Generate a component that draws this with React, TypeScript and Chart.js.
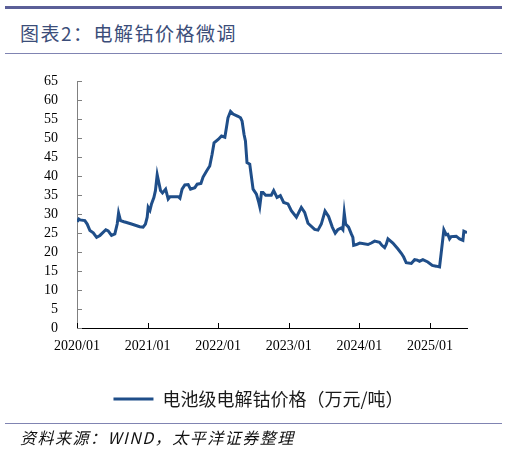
import React, { useEffect, useRef } from 'react';
import { Chart, registerables } from 'chart.js';

Chart.register(...registerables);

// weekly-ish samples
const dates = [
  '2020-01-02', '2020-01-10', '2020-01-16', '2020-02-11', '2020-02-23', '2020-03-07', '2020-03-24', '2020-04-11',
  '2020-04-28', '2020-05-28', '2020-06-10', '2020-06-27', '2020-07-14', '2020-07-26', '2020-08-03', '2020-08-13',
  '2020-08-30', '2020-09-14', '2020-10-09', '2020-11-21', '2020-12-08', '2020-12-20', '2020-12-29', '2021-01-04',
  '2021-01-13', '2021-01-21', '2021-02-03', '2021-02-11', '2021-02-20', '2021-02-28', '2021-03-07', '2021-03-17',
  '2021-04-03', '2021-04-16', '2021-04-25', '2021-06-07', '2021-06-16', '2021-06-27', '2021-07-11', '2021-07-28',
  '2021-08-10', '2021-09-02', '2021-09-14', '2021-10-03', '2021-10-14', '2021-11-02', '2021-11-18', '2021-11-30',
  '2021-12-10', '2021-12-31', '2022-01-18', '2022-02-05', '2022-02-13', '2022-02-21', '2022-03-04', '2022-03-17',
  '2022-04-12', '2022-04-25', '2022-05-03', '2022-05-13', '2022-05-20', '2022-05-28', '2022-06-12', '2022-06-29',
  '2022-07-16', '2022-07-28', '2022-08-03', '2022-08-12', '2022-08-20', '2022-09-03', '2022-10-02', '2022-10-14',
  '2022-11-01', '2022-11-18', '2022-12-05', '2022-12-27', '2023-01-14', '2023-02-10', '2023-03-05', '2023-03-22',
  '2023-04-09', '2023-05-13', '2023-05-30', '2023-06-17', '2023-07-06', '2023-07-24', '2023-08-13', '2023-08-28',
  '2023-09-11', '2023-09-29', '2023-10-07', '2023-10-14', '2023-10-21', '2023-11-06', '2023-11-20', '2023-11-28',
  '2023-12-02', '2023-12-16', '2024-01-03', '2024-02-15', '2024-03-02', '2024-03-19', '2024-04-14', '2024-04-26',
  '2024-05-10', '2024-05-18', '2024-05-27', '2024-06-22', '2024-07-17', '2024-08-05', '2024-08-17', '2024-08-30',
  '2024-09-26', '2024-10-13', '2024-10-27', '2024-11-08', '2024-11-25', '2024-12-20', '2025-01-13', '2025-02-03',
  '2025-02-20', '2025-02-28', '2025-03-12', '2025-03-24', '2025-04-02', '2025-04-11', '2025-04-19', '2025-05-15',
  '2025-06-02', '2025-06-19', '2025-06-24', '2025-07-10'
];

const cobaltPrice = [
  28.0, 28.7, 28.5, 28.3, 27.4, 25.7, 25.1, 23.9,
  24.4, 25.9, 25.6, 24.4, 24.8, 27.4, 30.3, 28.3,
  28.0, 27.8, 27.4, 26.7, 26.6, 27.4, 29.2, 31.8,
  31.0, 32.7, 34.4, 36.2, 40.4, 38.4, 36.2, 35.6,
  36.6, 34.0, 34.6, 34.6, 34.2, 36.6, 37.7, 37.8,
  36.6, 37.0, 37.9, 38.1, 39.8, 41.4, 42.7, 45.8,
  48.8, 49.7, 50.6, 50.3, 52.8, 55.4, 57.1, 56.4,
  55.8, 55.4, 54.5, 51.0, 49.3, 43.6, 43.2, 36.6,
  35.3, 33.1, 32.0, 35.7, 35.7, 35.0, 35.0, 36.2,
  34.4, 34.9, 33.1, 32.7, 30.9, 29.2, 31.8, 30.5,
  27.6, 26.0, 25.8, 27.4, 30.8, 29.4, 26.6, 25.0,
  25.9, 26.4, 25.9, 30.3, 27.4, 26.6, 24.8, 23.9,
  21.8, 22.0, 22.4, 22.0, 22.4, 22.9, 22.6, 21.8,
  21.2, 22.0, 23.5, 22.4, 20.9, 19.7, 18.7, 17.2,
  17.0, 18.0, 17.9, 17.6, 18.0, 17.4, 16.5, 16.3,
  16.1, 19.6, 25.9, 24.6, 24.7, 23.5, 24.1, 24.2,
  23.5, 23.1, 25.5, 25.1
];

const yearTicks = ['2020/01', '2021/01', '2022/01', '2023/01', '2024/01', '2025/01'];
const seriesLabel = '电池级电解钴价格（万元/吨）';

// months since 2020/01
const toMonth = (d: string) => {
  const [y, m, day] = d.split('-').map(Number);
  return (y - 2020) * 12 + (m - 1) + (day - 1) / 30;
};

// tick marks pointing into the plot
const innerTicks = {
  id: 'innerTicks',
  beforeDatasetsDraw(chart: any) {
    const { ctx, chartArea, scales } = chart;
    ctx.save();
    ctx.lineWidth = 1;
    ctx.strokeStyle = '#808080';
    scales.y.ticks.forEach((t: any) => {
      const py = Math.round(scales.y.getPixelForValue(t.value)) + 0.5;
      ctx.beginPath();
      ctx.moveTo(chartArea.left, py);
      ctx.lineTo(chartArea.left + 5, py);
      ctx.stroke();
    });
    ctx.strokeStyle = '#000';
    scales.x.ticks.forEach((t: any) => {
      const px = Math.round(scales.x.getPixelForValue(t.value)) + 0.5;
      ctx.beginPath();
      ctx.moveTo(px, chartArea.bottom);
      ctx.lineTo(px, chartArea.bottom - 5);
      ctx.stroke();
    });
    ctx.restore();
  }
};

function CobaltChart() {
  const canvasRef = useRef<HTMLCanvasElement>(null);
  const chartRef = useRef<Chart | null>(null);

  useEffect(() => {
    if (!canvasRef.current) return;
    if (chartRef.current) chartRef.current.destroy();

    chartRef.current = new Chart(canvasRef.current, {
      type: 'line',
      data: {
        datasets: [
          {
            label: seriesLabel,
            data: dates.map((d, i) => ({ x: toMonth(d), y: cobaltPrice[i] })),
            borderColor: '#1f4e89',
            backgroundColor: '#1f4e89',
            borderWidth: 3,
            pointRadius: 0,
            tension: 0
          }
        ]
      },
      options: {
        animation: false,
        responsive: true,
        maintainAspectRatio: false,
        layout: { padding: { left: 10, right: 0, top: 20, bottom: 6 } },
        scales: {
          x: {
            type: 'linear',
            min: 0,
            max: 66.3,
            afterBuildTicks: (scale: any) => {
              scale.ticks = yearTicks.map((_, i) => ({ value: i * 12 }));
            },
            afterFit: (scale: any) => { scale.height = 52; },
            ticks: {
              autoSkip: false,
              maxRotation: 0,
              padding: 10,
              color: '#000',
              font: { size: 14, family: 'Liberation Serif' },
              callback: (v: any) => yearTicks[Math.round(Number(v) / 12)]
            },
            grid: { display: false, drawTicks: false },
            border: { color: '#000', width: 1 }
          },
          y: {
            min: 0,
            max: 65,
            afterFit: (scale: any) => { scale.width = 67; },
            ticks: {
              stepSize: 5,
              autoSkip: false,
              padding: 19,
              color: '#000',
              font: { size: 14, family: 'Liberation Serif' }
            },
            grid: { display: false, drawTicks: false },
            border: { color: '#808080', width: 1 }
          },
          // empty right-hand gutter so the legend stays centred on the page
          gutter: {
            position: 'right',
            afterFit: (scale: any) => { scale.width = 40; },
            ticks: { display: false },
            grid: { display: false, drawTicks: false },
            border: { display: false }
          }
        },
        plugins: {
          legend: {
            position: 'bottom',
            labels: {
              usePointStyle: true,
              pointStyle: 'line',
              pointStyleWidth: 40,
              color: '#1a1a1a',
              font: { size: 18, family: 'Noto Sans CJK SC' }
            }
          },
          tooltip: { enabled: false }
        }
      },
      plugins: [innerTicks]
    });

    return () => { if (chartRef.current) chartRef.current.destroy(); };
  }, []);

  return <canvas ref={canvasRef} />;
}

export default function App() {
  return (
    <div style={{ position: 'fixed', left: 0, top: 0, width: 507, height: 450, background: '#fff', overflow: 'hidden' }}>
      <div style={{ position: 'absolute', left: 5, top: 6, width: 497, height: 2.5, background: '#5b5f98' }} />
      <div
        style={{
          position: 'absolute', left: 20, top: 21, height: 24, lineHeight: '24px', letterSpacing: 1.5,
          fontSize: 19, color: '#3b4d79', fontFamily: 'Noto Sans CJK SC', whiteSpace: 'nowrap'
        }}
      >
        图表2：电解钴价格微调
      </div>
      <div style={{ position: 'absolute', left: 5, top: 53, width: 497, height: 1, background: '#8084b2' }} />
      <div style={{ position: 'absolute', left: 0, top: 54, width: 507, height: 370 }}>
        <CobaltChart />
      </div>
      <div style={{ position: 'absolute', left: 5, top: 423, width: 497, height: 1, background: '#8084b2' }} />
      <div
        style={{
          position: 'absolute', left: 20, top: 427, height: 20, lineHeight: '20px', letterSpacing: 1.5,
          fontSize: 16, fontStyle: 'italic', color: '#111', fontFamily: 'Noto Sans CJK SC', whiteSpace: 'nowrap'
        }}
      >
        资料来源：WIND，太平洋证券整理
      </div>
    </div>
  );
}
